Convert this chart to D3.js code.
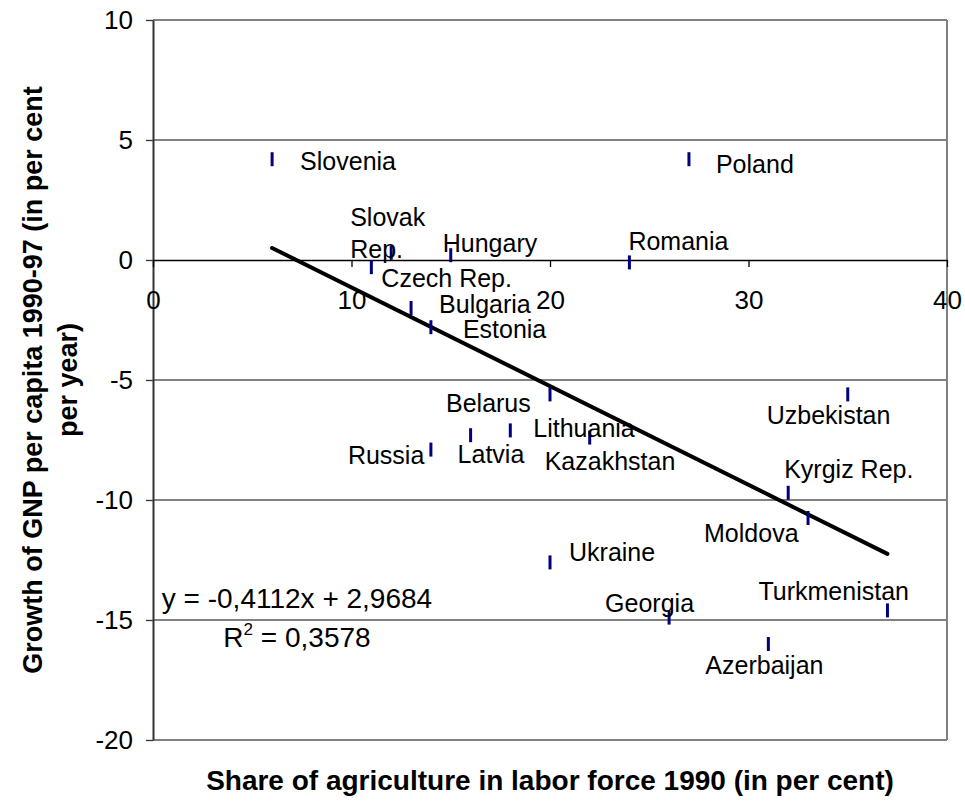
<!DOCTYPE html>
<html>
<head>
<meta charset="utf-8">
<script src="https://cdn.jsdelivr.net/npm/d3@7"></script>
<style>
  body { margin: 0; background: #fff; }
  svg text { font-family: "Liberation Sans", Arial, sans-serif; fill: #000; }
</style>
</head>
<body>
<div id="chart"></div>
<script>
// data
const countries = ["Slovenia", "Poland", "Romania", "Slovak Rep.", "Hungary", "Czech Rep.",
  "Bulgaria", "Estonia", "Belarus", "Lithuania", "Russia", "Latvia", "Kazakhstan",
  "Uzbekistan", "Kyrgiz Rep.", "Moldova", "Ukraine", "Georgia", "Turkmenistan", "Azerbaijan"];
const agriShare = [6, 27, 24, 12, 15, 11, 13, 14, 20, 18, 14, 16, 22, 35, 32, 33, 20, 26, 37, 31];
const gnpGrowth = [4.2, 4.2, -0.1, 0.3, 0.2, -0.3, -2.0, -2.8, -5.6, -7.1, -7.9, -7.3, -7.4,
  -5.6, -9.7, -10.75, -12.6, -14.9, -14.6, -16.0];
const xTicks = [0, 10, 20, 30, 40];
const yTicks = [10, 5, 0, -5, -10, -15, -20];
const trendSlope = -0.4112;
const trendIntercept = 2.9684;
const rSquared = "0,3578";

const width = 965, height = 807;
const margin = { top: 20, right: 18, bottom: 67, left: 153 };

// where each label sits relative to its marker (px), hand placed like in the original
const labelNudge = {
  "Slovenia": [28, 11], "Poland": [27, 14], "Romania": [-1, -12], "Slovak Rep.": [-41, -27],
  "Hungary": [-8, -3], "Czech Rep.": [10, 20], "Bulgaria": [28, 5], "Estonia": [32, 11],
  "Belarus": [-104, 18], "Lithuania": [23, 7], "Russia": [-83, 14], "Latvia": [-13, 28],
  "Kazakhstan": [-45, 32], "Uzbekistan": [-81, 30], "Kyrgiz Rep.": [-4, -15],
  "Moldova": [-104, 24], "Ukraine": [19, -1], "Georgia": [-64, -6],
  "Turkmenistan": [-129, -10], "Azerbaijan": [-63, 30]
};

const data = countries.map((c, i) => ({ name: c, x: agriShare[i], y: gnpGrowth[i] }));

const svg = d3.select("#chart").append("svg")
  .attr("width", width)
  .attr("height", height);

const x = d3.scaleLinear().domain([0, 40]).range([margin.left, width - margin.right]);
const y = d3.scaleLinear().domain([-20, 10]).range([height - margin.bottom, margin.top]);

// gridlines
svg.append("g")
  .selectAll("line")
  .data(yTicks.filter(d => d !== 0))
  .join("line")
    .attr("x1", x(0)).attr("x2", x(40))
    .attr("y1", d => y(d)).attr("y2", d => y(d))
    .attr("stroke", "#808080")
    .attr("stroke-width", 2);

// right border
svg.append("line")
  .attr("x1", x(40)).attr("x2", x(40))
  .attr("y1", y(10)).attr("y2", y(-20))
  .attr("stroke", "#808080")
  .attr("stroke-width", 2);

const plainNum = d => String(d);

// y axis
const yAxis = svg.append("g")
  .attr("transform", `translate(${x(0)},0)`)
  .call(d3.axisLeft(y).tickValues(yTicks).tickFormat(plainNum)
    .tickSize(7).tickPadding(13).tickSizeOuter(0));
yAxis.select(".domain").attr("stroke", "#333").attr("stroke-width", 2);
yAxis.selectAll(".tick line").attr("stroke", "#333").attr("stroke-width", 1.3);
yAxis.selectAll("text").attr("font-size", 26).style("font-family", "Liberation Sans, Arial");

// x axis crosses at 0
const xAxis = svg.append("g")
  .attr("transform", `translate(0,${y(0)})`)
  .call(d3.axisBottom(x).tickValues(xTicks).tickFormat(plainNum)
    .tickSize(7).tickPadding(24).tickSizeOuter(0));
xAxis.select(".domain").attr("stroke", "#000").attr("stroke-width", 1.3);
xAxis.selectAll(".tick line").attr("stroke", "#000").attr("stroke-width", 1.3);
xAxis.selectAll("text").attr("font-size", 26).style("font-family", "Liberation Sans, Arial");

// trend line over the range of the data
const xr = d3.extent(agriShare);
svg.append("line")
  .attr("x1", x(xr[0])).attr("y1", y(trendSlope * xr[0] + trendIntercept))
  .attr("x2", x(xr[1])).attr("y2", y(trendSlope * xr[1] + trendIntercept))
  .attr("stroke", "#000")
  .attr("stroke-width", 4)
  .attr("stroke-linecap", "round");

// markers: short vertical dashes
svg.append("g")
  .selectAll("line")
  .data(data)
  .join("line")
    .attr("x1", d => x(d.x)).attr("x2", d => x(d.x))
    .attr("y1", d => y(d.y) - 7).attr("y2", d => y(d.y) + 7)
    .attr("stroke", "#000080")
    .attr("stroke-width", 3);

// labels
const labels = svg.append("g")
  .selectAll("text")
  .data(data)
  .join("text")
    .attr("x", d => x(d.x) + labelNudge[d.name][0])
    .attr("y", d => y(d.y) + labelNudge[d.name][1])
    .attr("font-size", 25);
labels.each(function(d) {
  const t = d3.select(this);
  if (d.name === "Slovak Rep.") {
    t.append("tspan").text("Slovak");
    t.append("tspan").attr("x", t.attr("x")).attr("dy", 32).text("Rep.");
  } else {
    t.text(d.name);
  }
});

// trend equation
const eqX = 297;
svg.append("text")
  .attr("x", eqX).attr("y", 608)
  .attr("text-anchor", "middle")
  .attr("font-size", 28)
  .text(`y = ${String(trendSlope).replace(".", ",")}x + ${String(trendIntercept).replace(".", ",")}`);
const r2 = svg.append("text")
  .attr("x", eqX).attr("y", 647)
  .attr("text-anchor", "middle")
  .attr("font-size", 28);
r2.append("tspan").text("R");
r2.append("tspan").attr("font-size", 17).attr("dy", -12).text("2");
r2.append("tspan").attr("dy", 12).text(" = " + rSquared);

// axis titles
svg.append("text")
  .attr("x", (x(0) + x(40)) / 2).attr("y", 790)
  .attr("text-anchor", "middle")
  .attr("font-size", 28)
  .attr("font-weight", "bold")
  .text("Share of agriculture in labor force 1990 (in per cent)");

const yTitle = svg.append("g")
  .attr("transform", `translate(0,${(y(10) + y(-20)) / 2}) rotate(-90)`);
yTitle.append("text")
  .attr("x", 0).attr("y", 42)
  .attr("text-anchor", "middle")
  .attr("font-size", 27)
  .attr("font-weight", "bold")
  .text("Growth of GNP per capita 1990-97 (in per cent");
yTitle.append("text")
  .attr("x", 0).attr("y", 77)
  .attr("text-anchor", "middle")
  .attr("font-size", 27)
  .attr("font-weight", "bold")
  .text("per year)");
</script>
</body>
</html>
